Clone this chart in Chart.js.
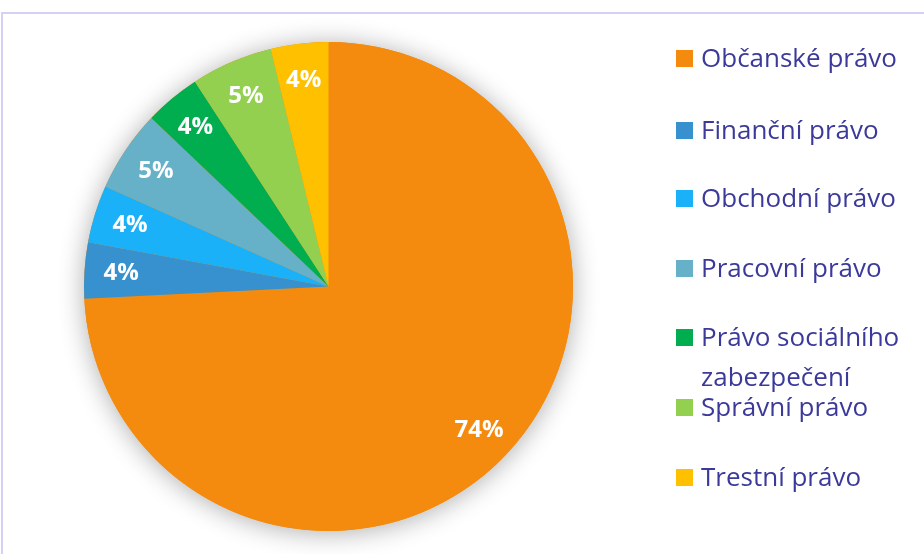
<!DOCTYPE html>
<html>
<head>
<meta charset="utf-8">
<script src="https://cdn.jsdelivr.net/npm/chart.js@4.4.1/dist/chart.umd.min.js"></script>
<style>
  html, body { margin: 0; padding: 0; background: #fff; overflow: hidden; }
  #wrap { position: relative; width: 924px; height: 554px; }
  #frame { position: absolute; left: 1px; top: 12px; width: 960px; height: 600px;
           border: 2px solid #d5d1f4; box-sizing: border-box; }
  #chartBox { position: absolute; left: 0; top: 0; width: 924px; height: 554px; }
  #legend { position: absolute; left: 676px; top: 0; font-family: "Open Sans", sans-serif;
            font-size: 26px; color: #3b3a9a; }
  .item { position: absolute; left: 0; width: 250px; }
  .box { position: absolute; left: 0; width: 17px; height: 17px; }
  .txt { position: absolute; left: 25px; width: 222px; line-height: 40px; white-space: normal; }
</style>
</head>
<body>
<div id="wrap">
  <div id="frame"></div>
  <div id="chartBox"><canvas id="pieChart"></canvas></div>
  <div id="legend"></div>
</div>
<script>
// Shares of the legal areas, in percent
const categories = [
  "Občanské právo",
  "Finanční právo",
  "Obchodní právo",
  "Pracovní právo",
  "Právo sociálního zabezpečení",
  "Správní právo",
  "Trestní právo",
];
const shares = [74.2, 3.7, 3.8, 5.4, 3.7, 5.4, 3.8];
const sliceColors = ["#f48b0f", "#3691ce", "#1ab1f9", "#66b0c8", "#00ae4f", "#93d050", "#ffc000"];

// soft glow under the whole pie
const pieShadow = {
  id: "pieShadow",
  beforeDatasetsDraw(chart) {
    const arc = chart.getDatasetMeta(0).data[0];
    if (!arc) return;
    const { x, y, outerRadius } = arc.getProps(["x", "y", "outerRadius"], true);
    const ctx = chart.ctx;
    ctx.save();
    ctx.shadowColor = "rgba(0,0,0,0.32)";
    ctx.shadowBlur = 26;
    ctx.shadowOffsetX = 0;
    ctx.shadowOffsetY = 2;
    ctx.beginPath();
    ctx.arc(x, y, outerRadius, 0, Math.PI * 2);
    ctx.fillStyle = sliceColors[0];
    ctx.fill();
    ctx.restore();
  },
};

// percentage labels placed near the rim
const sliceLabels = {
  id: "sliceLabels",
  afterDatasetsDraw(chart) {
    const ctx = chart.ctx;
    const total = shares.reduce((a, b) => a + b, 0);
    ctx.save();
    ctx.fillStyle = "#ffffff";
    ctx.font = "bold 24px 'Open Sans', sans-serif";
    ctx.textAlign = "center";
    ctx.textBaseline = "middle";
    chart.getDatasetMeta(0).data.forEach((arc, i) => {
      const p = arc.getProps(["x", "y", "startAngle", "endAngle", "outerRadius"], true);
      const mid = (p.startAngle + p.endAngle) / 2;
      const r = p.outerRadius * 0.85;
      const txt = Math.round((shares[i] / total) * 100) + "%";
      ctx.fillText(txt, p.x + Math.cos(mid) * r, p.y + Math.sin(mid) * r);
    });
    ctx.restore();
  },
};

const ctx = document.getElementById("pieChart").getContext("2d");
new Chart(ctx, {
  type: "pie",
  data: {
    labels: categories,
    datasets: [
      {
        data: shares,
        backgroundColor: sliceColors,
        borderWidth: 0,
      },
    ],
  },
  options: {
    responsive: true,
    maintainAspectRatio: false,
    animation: false,
    layout: { padding: { left: 84, top: 42, right: 351, bottom: 23 } },
    plugins: {
      legend: { display: false },
      tooltip: { enabled: false },
    },
  },
  plugins: [pieShadow, sliceLabels],
});

// legend on the right
const legend = document.getElementById("legend");
const rowCenters = [58, 130, 198, 268, 337, 407, 477];
categories.forEach((name, i) => {
  const item = document.createElement("div");
  item.className = "item";
  item.style.top = rowCenters[i] + "px";
  item.innerHTML =
    '<div class="box" style="top:-8px;background:' + sliceColors[i] + '"></div>' +
    '<div class="txt" style="top:-21px">' + name + "</div>";
  legend.appendChild(item);
});
</script>
</body>
</html>
